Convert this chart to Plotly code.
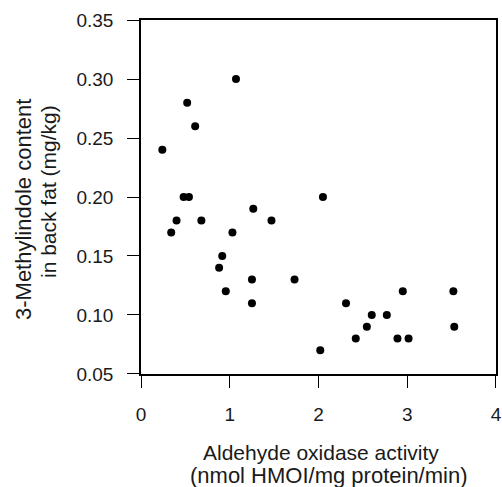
import plotly.graph_objects as go

activity = [0.24, 0.34, 0.40, 0.48, 0.54, 0.52, 0.61, 0.68, 0.88, 0.915,
            0.955, 1.03, 1.07, 1.265, 1.25, 1.25, 1.47, 1.73, 2.02, 2.05,
            2.31, 2.42, 2.545, 2.60, 2.77, 2.89, 2.95, 3.015, 3.52, 3.53]
skatole = [0.24, 0.17, 0.18, 0.20, 0.20, 0.28, 0.26, 0.18, 0.14, 0.15,
           0.12, 0.17, 0.30, 0.19, 0.13, 0.11, 0.18, 0.13, 0.07, 0.20,
           0.11, 0.08, 0.09, 0.10, 0.10, 0.08, 0.12, 0.08, 0.12, 0.09]

x_ticks = [0, 1, 2, 3, 4]
y_ticks = [0.05, 0.10, 0.15, 0.20, 0.25, 0.30, 0.35]
y_tick_labels = ["0.05", "0.10", "0.15", "0.20", "0.25", "0.30", "0.35"]

x_title = ["Aldehyde oxidase activity", "(nmol HMOI/mg protein/min)"]
y_title = ["3-Methylindole content", "in back fat (mg/kg)"]

W, H = 502, 487
L, R, T, B = 141, 6, 20, 113
PW, PH = W - L - R, H - T - B

def px_to_paper_x(px):
    return (px - L) / PW

def px_to_paper_y(py):
    return (H - B - py) / PH

fig = go.Figure(go.Scatter(
    x=activity, y=skatole, mode="markers",
    marker=dict(color="black", size=8, line=dict(width=0)),
    cliponaxis=False, hoverinfo="skip",
))

family = "Liberation Sans, Arial, sans-serif"
ink = "#1a1a1a"
tick_font = dict(family=family, size=19, color=ink)

axis_common = dict(
    ticks="outside", ticklen=12, tickwidth=1.2, tickcolor="black",
    showline=True, linecolor="black", linewidth=1.6, mirror=True,
    showgrid=False, zeroline=False, automargin=False,
    tickfont=tick_font,
)

fig.update_layout(
    width=W, height=H,
    margin=dict(l=L, r=R, t=T, b=B),
    plot_bgcolor="white", paper_bgcolor="white",
    showlegend=False,
    xaxis=dict(range=[-0.0005, 4.0005], tickvals=x_ticks,
               ticktext=[str(v) for v in x_ticks],
               ticklabelstandoff=10, **axis_common),
    yaxis=dict(range=[0.05 - 0.00004, 0.35 + 0.00004], tickvals=y_ticks,
               ticktext=y_tick_labels, ticklabelstandoff=10, **axis_common),
)

annotations = []
for text, cx, cy, fs in [(x_title[0], 321, 452, 21), (x_title[1], 329, 475, 22)]:
    annotations.append(dict(
        text=text, x=px_to_paper_x(cx), y=px_to_paper_y(cy),
        xref="paper", yref="paper", xanchor="center", yanchor="middle",
        showarrow=False, font=dict(family=family, size=fs, color=ink),
    ))
for text, cx, cy, fs in [(y_title[0], 23, 210, 22), (y_title[1], 48, 192, 21)]:
    annotations.append(dict(
        text=text, x=px_to_paper_x(cx), y=px_to_paper_y(cy),
        xref="paper", yref="paper", xanchor="center", yanchor="middle",
        showarrow=False, font=dict(family=family, size=fs, color=ink),
        textangle=-90,
    ))
fig.update_layout(annotations=annotations)

fig.write_html(
    "out.html",
    config={"displayModeBar": False},
    post_script="document.body.style.margin='0';"
                "document.body.style.overflow='hidden';",
)
